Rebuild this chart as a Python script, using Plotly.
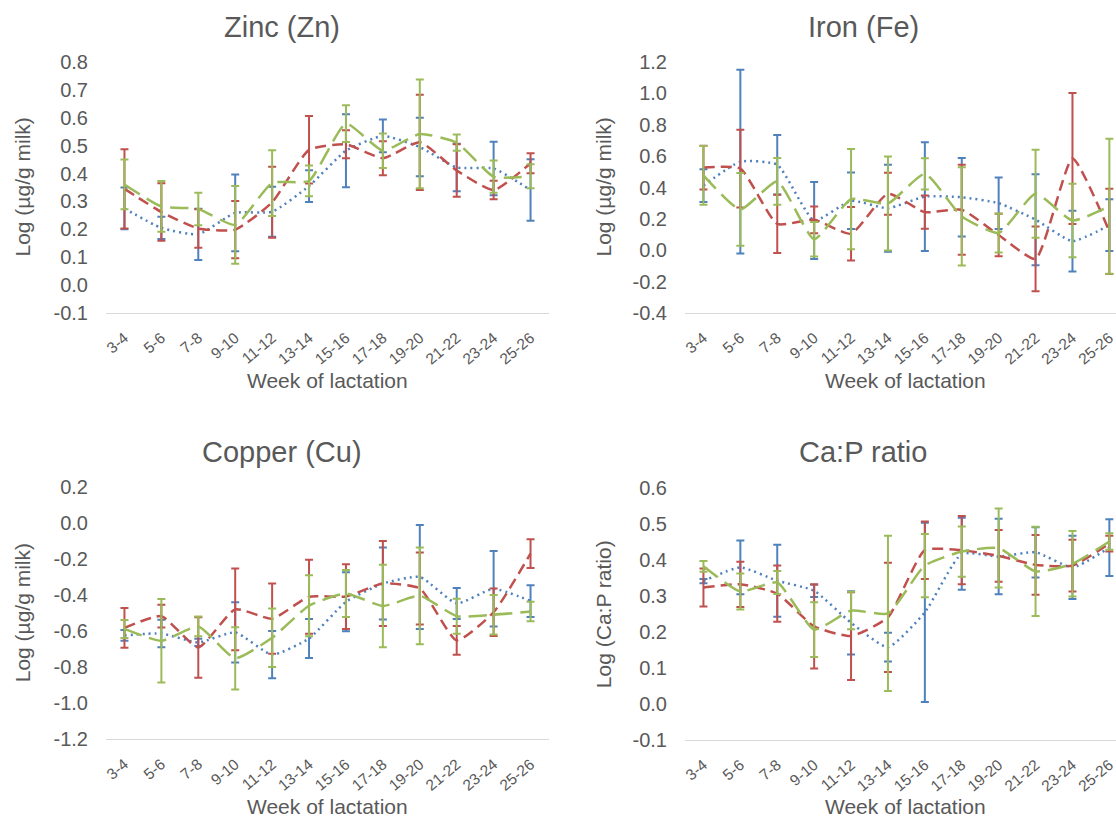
import plotly.graph_objects as go

weeks = ["3-4", "5-6", "7-8", "9-10", "11-12", "13-14", "15-16", "17-18", "19-20", "21-22", "23-24", "25-26"]

# Zinc (Zn)
zn_blue = [0.275, 0.205, 0.182, 0.259, 0.263, 0.355, 0.482, 0.535, 0.495, 0.422, 0.418, 0.341]
zn_blue_err = [0.075, 0.040, 0.092, 0.138, 0.090, 0.057, 0.131, 0.059, 0.105, 0.085, 0.096, 0.110]
zn_red = [0.345, 0.262, 0.203, 0.199, 0.297, 0.485, 0.505, 0.455, 0.512, 0.411, 0.341, 0.437]
zn_red_err = [0.142, 0.103, 0.069, 0.103, 0.127, 0.121, 0.050, 0.061, 0.171, 0.094, 0.033, 0.036]
zn_green = [0.361, 0.282, 0.273, 0.216, 0.366, 0.374, 0.579, 0.482, 0.542, 0.511, 0.389, 0.390]
zn_green_err = [0.089, 0.091, 0.058, 0.139, 0.118, 0.055, 0.066, 0.062, 0.195, 0.029, 0.058, 0.043]

# Iron (Fe)
fe_blue = [0.412, 0.565, 0.545, 0.190, 0.315, 0.268, 0.342, 0.338, 0.300, 0.195, 0.058, 0.160]
fe_blue_err = [0.105, 0.585, 0.190, 0.245, 0.180, 0.277, 0.347, 0.250, 0.164, 0.290, 0.193, 0.165]
fe_red = [0.527, 0.520, 0.168, 0.194, 0.105, 0.360, 0.243, 0.258, 0.097, -0.055, 0.585, 0.120]
fe_red_err = [0.139, 0.248, 0.185, 0.085, 0.170, 0.134, 0.106, 0.287, 0.135, 0.207, 0.417, 0.272]
fe_green = [0.477, 0.260, 0.439, 0.070, 0.326, 0.298, 0.487, 0.216, 0.110, 0.360, 0.190, 0.280]
fe_green_err = [0.187, 0.232, 0.149, 0.110, 0.319, 0.300, 0.100, 0.313, 0.125, 0.280, 0.234, 0.430]

# Copper (Cu)
cu_blue = [-0.623, -0.612, -0.662, -0.606, -0.730, -0.640, -0.436, -0.335, -0.298, -0.445, -0.364, -0.432]
cu_blue_err = [0.030, 0.076, 0.020, 0.168, 0.131, 0.108, 0.164, 0.200, 0.289, 0.086, 0.210, 0.088]
cu_red = [-0.581, -0.516, -0.690, -0.478, -0.530, -0.408, -0.407, -0.334, -0.362, -0.650, -0.494, -0.168]
cu_red_err = [0.111, 0.063, 0.168, 0.227, 0.195, 0.206, 0.180, 0.236, 0.200, 0.080, 0.132, 0.080]
cu_green = [-0.587, -0.653, -0.573, -0.750, -0.636, -0.458, -0.390, -0.459, -0.403, -0.516, -0.508, -0.490]
cu_green_err = [0.050, 0.232, 0.055, 0.173, 0.162, 0.170, 0.130, 0.229, 0.269, 0.097, 0.110, 0.054]

# Ca:P ratio
cap_blue = [0.342, 0.380, 0.343, 0.315, 0.226, 0.158, 0.255, 0.418, 0.410, 0.422, 0.380, 0.435]
cap_blue_err = [0.006, 0.075, 0.100, 0.017, 0.088, 0.040, 0.249, 0.100, 0.105, 0.070, 0.088, 0.079]
cap_red = [0.324, 0.333, 0.307, 0.216, 0.189, 0.241, 0.428, 0.428, 0.412, 0.387, 0.385, 0.446]
cap_red_err = [0.053, 0.063, 0.078, 0.117, 0.122, 0.152, 0.080, 0.095, 0.072, 0.083, 0.072, 0.022]
cap_green = [0.383, 0.313, 0.338, 0.207, 0.260, 0.252, 0.385, 0.424, 0.434, 0.369, 0.390, 0.452]
cap_green_err = [0.015, 0.050, 0.032, 0.076, 0.052, 0.216, 0.088, 0.070, 0.110, 0.124, 0.091, 0.023]

panel_titles = ["Zinc (Zn)", "Iron (Fe)", "Copper (Cu)", "Ca:P ratio"]
y_titles = ["Log (µg/g milk)", "Log (µg/g milk)", "Log (µg/g milk)", "Log (Ca:P ratio)"]
x_title = "Week of lactation"

BLUE = "#4F81BD"
RED = "#C0504D"
GREEN = "#9BBB59"
TXT = "#595959"
FONT = "Liberation Sans, Arial, sans-serif"
W, H = 1116, 818

panels = [
    dict(series=[(zn_blue, zn_blue_err), (zn_red, zn_red_err), (zn_green, zn_green_err)],
         yr=(-0.1, 0.8), dt=0.1, xpx=(106, 549), ypx=(62, 313), xr=(-0.5, 11.5)),
    dict(series=[(fe_blue, fe_blue_err), (fe_red, fe_red_err), (fe_green, fe_green_err)],
         yr=(-0.4, 1.2), dt=0.2, xpx=(685, 1116), ypx=(62, 313), xr=(-0.5, 11.18)),
    dict(series=[(cu_blue, cu_blue_err), (cu_red, cu_red_err), (cu_green, cu_green_err)],
         yr=(-1.2, 0.2), dt=0.2, xpx=(106, 549), ypx=(487.3, 739.3), xr=(-0.5, 11.5)),
    dict(series=[(cap_blue, cap_blue_err), (cap_red, cap_red_err), (cap_green, cap_green_err)],
         yr=(-0.1, 0.6), dt=0.1, xpx=(685, 1116), ypx=(488.3, 740), xr=(-0.5, 11.18)),
]

styles = [
    dict(color=BLUE, dash="2px,4px", name="Group 1"),
    dict(color=RED, dash="11px,6px", name="Group 2"),
    dict(color=GREEN, dash="18px,8px", name="Group 3"),
]

fig = go.Figure()
annotations = []
for i, p in enumerate(panels):
    ax = "" if i == 0 else str(i + 1)
    for (vals, errs), st in zip(p["series"], styles):
        fig.add_trace(go.Scatter(
            x=weeks, y=vals, mode="lines", name=st["name"],
            xaxis="x" + ax, yaxis="y" + ax, showlegend=False,
            line=dict(color=st["color"], width=2.5, dash=st["dash"], shape="spline", smoothing=0.5),
            error_y=dict(type="data", array=errs, visible=True, color=st["color"], thickness=2, width=4),
        ))
    x0, x1 = p["xpx"]
    yt, yb = p["ypx"]
    n = int(round((p["yr"][1] - p["yr"][0]) / p["dt"]))
    tv = [round(p["yr"][0] + k * p["dt"], 2) for k in range(n + 1)]
    fig.update_layout(**{
        "xaxis" + ax: dict(domain=[x0 / W, x1 / W], anchor="y" + ax, type="category",
                           range=list(p["xr"]), showline=True, linecolor="#D9D9D9", linewidth=1,
                           showgrid=False, zeroline=False, tickangle=-40, ticks="",
                           ticklabelstandoff=9,
                           tickfont=dict(size=15.5, color=TXT, family=FONT), automargin=False),
        "yaxis" + ax: dict(domain=[1 - yb / H, 1 - yt / H], anchor="x" + ax,
                           range=list(p["yr"]), tickvals=tv, ticktext=[f"{v:.1f}" for v in tv],
                           showline=False, showgrid=False, zeroline=False, ticks="",
                           ticklabelstandoff=17,
                           tickfont=dict(size=20, color=TXT, family=FONT), automargin=False),
    })
    annotations.append(dict(text=panel_titles[i], x=(282 if i % 2 == 0 else 863) / W,
                            y=1 - (27 if i < 2 else 452) / H, xref="paper", yref="paper",
                            showarrow=False, xanchor="center", yanchor="middle",
                            font=dict(size=29, color=TXT, family=FONT)))
    annotations.append(dict(text=x_title, x=(327 if i % 2 == 0 else 906) / W,
                            y=1 - (380 if i < 2 else 806) / H, xref="paper", yref="paper",
                            showarrow=False, xanchor="center", yanchor="middle",
                            font=dict(size=21, color=TXT, family=FONT)))
    annotations.append(dict(text=y_titles[i], x=(22 if i % 2 == 0 else 603) / W,
                            y=1 - ((yt + yb) / 2) / H, xref="paper", yref="paper",
                            showarrow=False, xanchor="center", yanchor="middle", textangle=-90,
                            font=dict(size=21, color=TXT, family=FONT)))

fig.update_layout(width=W, height=H, margin=dict(l=0, r=0, t=0, b=0),
                  paper_bgcolor="white", plot_bgcolor="white", showlegend=False,
                  annotations=annotations, font=dict(family=FONT, color=TXT))
fig.write_html("out.html", config={"displayModeBar": False},
               post_script="document.body.style.margin='0';document.body.style.overflow='hidden';")
